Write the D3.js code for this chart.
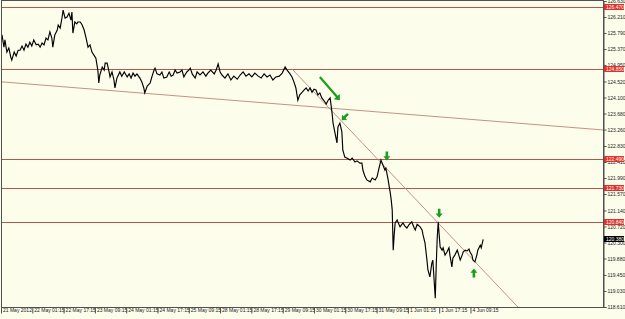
<!DOCTYPE html>
<html><head><meta charset="utf-8">
<script src="https://cdn.jsdelivr.net/npm/d3@7"></script>
<style>body{margin:0;background:#fdfdec;} svg{display:block}</style>
</head><body>
<svg id="c" width="625" height="319"></svg>
<script>
// bar index (M15 bars) and close price
const bars = [2,6,8,12,16,20,22,27,31,35,39,43,47,51,55,59,63,67,72,76,80,84,88,92,96,100,104,106,110,115,117,121,125,127,131,135,139,143,145,147,151,155,157,162,166,170,174,178,182,186,190,194,198,200,202,207,211,213,217,221,223,227,231,233,237,243,247,252,258,262,266,270,274,278,284,288,292,294,299,305,309,313,315,319,325,329,333,339,344,348,352,356,360,366,370,374,376,380,384,387,391,397,401,407,413,419,423,429,436,440,444,448,452,458,464,470,476,483,489,495,501,507,513,519,526,532,538,544,550,556,562,569,575,581,585,591,595,599,603,607,611,616,620,624,628,632,636,640,644,648,652,656,661,665,669,673,677,679,683,687,689,693,697,699,703,708,714,718,724,728,734,738,740,744,748,755,759,765,769,773,777,781,785,787,791,796,798,800,802,804,806,810,816,820,822,826,830,834,840,845,847,851,857,861,863,867,871,873,877,881,883,885,888,890,892,894,896,898,902,904,908,912,916,918,922,924,928,933,935,939,943,945,949,953,957,959,963,965,969,973,975,980,982,986];
const closes = [125.74,125.42,125.61,125.29,125.40,125.16,125.08,125.29,125.19,125.34,125.34,125.45,125.34,125.50,125.42,125.55,125.45,125.61,125.48,125.50,125.42,125.53,125.48,125.66,125.61,125.82,125.66,125.42,125.74,125.87,126.00,125.92,126.21,126.39,126.18,126.21,126.31,126.13,126.34,125.79,126.08,126.03,126.08,126.08,126.00,125.87,125.66,125.42,125.48,125.29,125.21,125.13,124.82,124.48,124.69,124.90,124.82,125.00,125.00,124.77,124.64,124.77,124.56,124.35,124.61,124.77,124.66,124.77,124.64,124.72,124.61,124.74,124.66,124.72,124.61,124.51,124.35,124.22,124.40,124.48,124.66,124.82,124.87,124.72,124.69,124.77,124.61,124.64,124.77,124.66,124.69,124.82,124.74,124.77,124.82,124.64,124.69,124.77,124.82,124.87,124.72,124.61,124.77,124.69,124.77,124.66,124.74,124.82,124.72,124.82,124.98,124.77,124.69,124.61,124.72,124.56,124.66,124.58,124.69,124.77,124.66,124.72,124.64,124.74,124.66,124.61,124.72,124.64,124.69,124.56,124.64,124.66,124.74,124.90,124.82,124.72,124.64,124.51,124.35,124.03,124.17,124.24,124.30,124.35,124.27,124.35,124.24,124.32,124.30,124.17,124.22,124.09,124.01,123.93,124.03,124.09,123.69,123.43,123.17,122.91,123.33,123.43,123.20,122.72,122.54,122.51,122.46,122.51,122.41,122.44,122.38,122.38,122.20,122.04,121.94,121.89,121.99,121.94,122.02,122.25,122.46,122.33,122.20,122.25,121.99,121.60,121.41,121.15,120.10,120.50,120.81,120.89,120.71,120.78,120.81,120.73,120.68,120.76,120.84,120.68,120.63,120.78,120.71,120.63,120.50,120.29,119.84,119.58,119.40,119.76,119.84,119.45,118.84,119.71,120.42,120.84,120.50,120.18,120.10,120.16,119.97,120.05,120.16,119.97,119.66,119.89,119.97,120.10,120.02,119.84,119.97,120.05,120.10,120.08,120.13,120.05,119.97,119.84,119.79,119.97,120.10,120.23,120.16,120.38];

const timeTickLabels = ["21 May 2012","22 May 01:15","22 May 17:15","23 May 09:15","24 May 01:15","24 May 17:15","25 May 09:15","28 May 01:15","28 May 17:15","29 May 09:15","30 May 01:15","30 May 17:15","31 May 09:15","1 Jun 01:15","1 Jun 17:15","4 Jun 09:15"];
const timeTickBars = [0,64,128,192,256,320,384,448,512,576,640,704,768,832,896,960];
const priceTicks = [126.630,126.210,125.790,125.370,124.950,124.520,124.100,123.680,123.260,122.830,122.410,121.990,121.570,121.140,120.720,120.300,119.880,119.450,119.030,118.610];
const levelPrices = [126.470,124.850,122.490,121.730,120.840];

// trend lines: [bar1, price1, bar2, price2]
const trendLineA = [2,124.51,1231,123.25];
const trendLineB = [595,124.85,1057,118.61];

// green arrows
const arrowBars = [703,789,896,967];
const arrowPrices = [123.59,122.57,121.07,119.50];
const arrowKinds = ["downleft","down","down","up"];
const bigArrow = [652,124.64,693,124.03];

const W=625,H=319;
const L=1,R=603,T=1,B=307;
const x = d3.scaleLinear().domain([0,1231]).range([L,R]);
const y = d3.scaleLinear().domain([118.61,126.63]).range([B,T]);

const svg = d3.select("#c");
svg.append("rect").attr("width",W).attr("height",H).attr("fill","#fdfdec");
svg.append("defs").append("clipPath").attr("id","pc").append("rect")
  .attr("x",L).attr("y",T).attr("width",R-L).attr("height",B-T);
const g = svg.append("g").attr("clip-path","url(#pc)");

// horizontal levels
g.selectAll(".lvl").data(levelPrices).join("line")
  .attr("x1",L).attr("x2",R)
  .attr("y1",d=>Math.round(y(d))+0.5).attr("y2",d=>Math.round(y(d))+0.5)
  .attr("stroke","#b0584c").attr("stroke-width",1);

// trend lines
[trendLineA,trendLineB].forEach(t=>{
  g.append("line").attr("x1",x(t[0])).attr("y1",y(t[1]))
   .attr("x2",x(t[2])).attr("y2",y(t[3]))
   .attr("stroke","#c08478").attr("stroke-width",0.9);
});

// price line
const pts = bars.map((b,i)=>[b,closes[i]]);
g.append("path").datum(pts)
  .attr("d",d3.line().x(d=>x(d[0])).y(d=>y(d[1])))
  .attr("fill","none").attr("stroke","#000").attr("stroke-width",1.15)
  .attr("stroke-linejoin","miter");

// arrows
const green="#1b9e1b";
function arrow(cx,cy,angle,len,head,shaft){
  // arrow pointing in direction angle (deg, 0 = down)
  const s=shaft/2, h=head/2;
  const p=[[-s,-len/2],[s,-len/2],[s,len/2-head*0.6],[h,len/2-head*0.6],[0,len/2],[-h,len/2-head*0.6],[-s,len/2-head*0.6]];
  g.append("path").attr("d","M"+p.map(q=>q.join(",")).join("L")+"Z")
   .attr("fill",green)
   .attr("transform",`translate(${cx},${cy}) rotate(${angle})`);
}
arrowBars.forEach((b,i)=>{
  const k=arrowKinds[i];
  const ang = k==="down"?0:(k==="up"?180:45);
  arrow(x(b),y(arrowPrices[i]),ang,9,7,2.6);
});
{
  const x1=x(bigArrow[0]),y1=y(bigArrow[1]),x2=x(bigArrow[2]),y2=y(bigArrow[3]);
  const len=Math.hypot(x2-x1,y2-y1);
  const ang=Math.atan2(y2-y1,x2-x1)*180/Math.PI-90;
  arrow((x1+x2)/2,(y1+y2)/2,ang,len,8,2.2);
}

// frame
svg.append("rect").attr("x",L+0.5).attr("y",T-0.5).attr("width",R-L).attr("height",B-T+1)
  .attr("fill","none").attr("stroke","#505050").attr("stroke-width",1);

const font="'Liberation Sans', Arial, sans-serif";
// right axis
const ay = svg.append("g").attr("transform",`translate(${R+0.5},0)`)
  .call(d3.axisRight(y).tickValues(priceTicks).tickSize(3).tickPadding(1).tickFormat(d3.format(".3f")));
ay.select(".domain").attr("stroke","#505050");
ay.selectAll(".tick line").attr("stroke","#505050");
ay.selectAll("text").attr("font-family",font).attr("font-size","5px").attr("fill","#222");

// bottom axis
const ax = svg.append("g").attr("transform",`translate(0,${B+0.5})`)
  .call(d3.axisBottom(x).tickValues(timeTickBars).tickSize(6).tickPadding(0).tickFormat((d,i)=>timeTickLabels[i]));
ax.select(".domain").remove();
ax.selectAll(".tick line").attr("stroke","#505050");
ax.selectAll("text").attr("font-family",font).attr("font-size","5px").attr("fill","#222")
  .attr("text-anchor","start").attr("dx","1.5").attr("dy","-0.5em").attr("y",7);

// price labels
function priceLabel(p,bg){
  const yy=Math.round(y(p));
  svg.append("rect").attr("x",R+1).attr("y",yy-3).attr("width",20).attr("height",6).attr("fill",bg);
  svg.append("text").attr("x",R+3).attr("y",yy+1.8).attr("font-family",font).attr("font-size","5px")
    .attr("fill","#fff").text(d3.format(".3f")(p));
}
levelPrices.forEach(p=>priceLabel(p,"#e0302a"));
priceLabel(closes[closes.length-1],"#000");
</script>
</body></html>
